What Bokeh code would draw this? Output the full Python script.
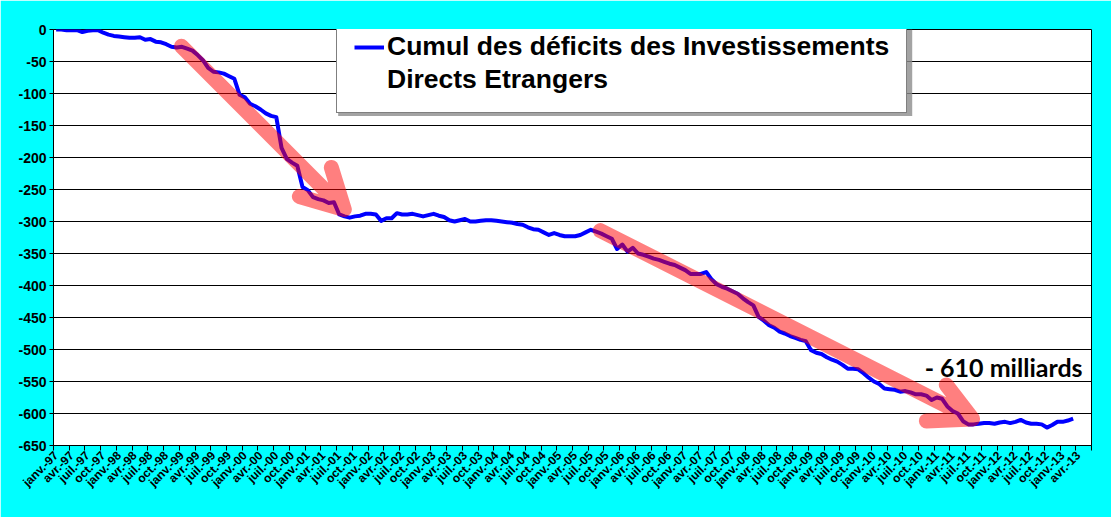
import math
from bokeh.plotting import figure
from bokeh.models import Range1d, FixedTicker, Legend, LegendItem, Label, BoxAnnotation
from bokeh.embed import file_html
from bokeh.resources import INLINE

# ---------------- data ----------------
quarters = ["janv.", "avr.", "juil.", "oct."]
years = list(range(1997, 2014))
n_months = 198  # janv.-97 .. juin-13 (categories on the axis)
tick_labels = [f"{q}-{y % 100:02d}" for y in years for q in quarters][:66]

cumul = [
    0, 0, -1, -1, -1, -4, -2, -1, -1, -5,
    -8, -10, -11, -12, -13, -13, -12, -16, -15, -19,
    -20, -23, -27, -28, -27, -30, -33, -40, -48, -60,
    -66, -67, -69, -73, -77, -102, -106, -116, -120, -125,
    -131, -135, -137, -185, -202, -208, -213, -246, -251, -262,
    -265, -267, -271, -270, -289, -292, -294, -292, -291, -288,
    -288, -289, -299, -295, -295, -287, -289, -289, -288, -290,
    -292, -290, -288, -291, -293, -298, -300, -298, -296, -300,
    -300, -299, -298, -298, -299, -300, -301, -302, -304, -305,
    -309, -312, -313, -317, -321, -318, -321, -323, -323, -323,
    -321, -317, -313, -316, -319, -323, -327, -343, -336, -347,
    -341, -350, -352, -355, -358, -360, -363, -366, -368, -372,
    -376, -382, -382, -382, -379, -390, -398, -402, -405, -409,
    -413, -420, -426, -431, -449, -455, -462, -466, -472, -475,
    -479, -482, -485, -487, -501, -505, -507, -512, -516, -519,
    -524, -530, -530, -531, -537, -544, -550, -554, -561, -562,
    -563, -566, -565, -567, -570, -570, -572, -579, -575, -577,
    -589, -596, -600, -612, -617, -617, -616, -615, -615, -616,
    -614, -613, -615, -613, -610, -614, -616, -616, -617, -622,
    -618, -613, -613, -611, -608,
]
months_idx = list(range(len(cumul)))

y_ticks = list(range(-650, 1, 50))

series_label = ["Cumul des déficits des Investissements", "Directs Etrangers"]
note_text = "- 610 milliards"

# annotation arrows (month index, value): start -> tip -> barb1 -> tip -> barb2
arrow_xs = [[23.9, 54.97, 52.5, 54.97, 46.4],
            [103.8, 174.8, 169.8, 174.8, 166.0]]
arrow_ys = [[-26.1, -281.3, -215.6, -281.3, -260.9],
            [-314.2, -608.5, -555.3, -608.5, -611.6]]

# ---------------- figure ----------------
CYAN = "#00FFFF"
p = figure(width=1111, height=517, output_backend="svg", toolbar_location=None,
           x_range=Range1d(-0.5, n_months - 0.5), y_range=Range1d(-650, 0),
           min_border_left=53, min_border_right=20, min_border_top=29,
           min_border_bottom=72)
p.border_fill_color = CYAN
p.background_fill_color = "white"
p.outline_line_color = "black"
p.outline_line_width = 1

r_line = p.line(months_idx, cumul, line_color="#0000FF", line_width=4,
                line_join="round")
r_dummy = p.line([], [], line_alpha=0)

p.multi_line(arrow_xs, arrow_ys, line_color="#FF0000", line_alpha=0.5,
             line_width=15, line_cap="round", line_join="round")

# axes
p.xgrid.visible = False
p.ygrid.ticker = FixedTicker(ticks=y_ticks)
p.ygrid.grid_line_color = "black"
p.ygrid.grid_line_width = 1

p.yaxis.ticker = FixedTicker(ticks=y_ticks)
p.yaxis.major_label_overrides = {v: str(v) for v in y_ticks}
p.yaxis.major_label_text_font = "Liberation Sans"
p.yaxis.major_label_text_font_style = "bold"
p.yaxis.major_label_text_font_size = "14px"
p.yaxis.major_label_text_color = "black"
p.yaxis.major_tick_out = 4
p.yaxis.major_tick_in = 0
p.yaxis.minor_tick_line_color = None
p.yaxis.major_label_standoff = 3
p.yaxis.axis_line_color = "black"

x_major = list(range(0, 3 * len(tick_labels), 3))
x_minor = [k * 3 - 0.5 for k in range(n_months // 3 + 1)]
p.xaxis.ticker = FixedTicker(ticks=x_major, minor_ticks=x_minor)
p.xaxis.major_label_overrides = {t: lab for t, lab in zip(x_major, tick_labels)}
p.xaxis.major_label_orientation = math.pi / 4
p.xaxis.major_label_text_font = "Liberation Sans"
p.xaxis.major_label_text_font_style = "bold"
p.xaxis.major_label_text_font_size = "12px"
p.xaxis.major_label_text_color = "black"
p.xaxis.major_tick_line_color = None
p.xaxis.minor_tick_line_color = "black"
p.xaxis.minor_tick_out = 5
p.xaxis.minor_tick_in = 0
p.xaxis.major_label_standoff = 2
p.xaxis.axis_line_color = "black"

# legend shadow
p.add_layout(BoxAnnotation(left=53.8, right=163.3, top=0, bottom=-135.0,
                           fill_color="#8C8C8C", fill_alpha=0.8,
                           line_color=None))

# legend
legend = Legend(items=[LegendItem(label=series_label[0], renderers=[r_line]),
                       LegendItem(label=series_label[1], renderers=[r_dummy])],
                location=(283, 332))
legend.label_text_font = "Liberation Sans"
legend.label_text_font_style = "bold"
legend.label_text_font_size = "26.5px"
legend.label_text_color = "black"
legend.label_height = 28
legend.glyph_height = 28
legend.glyph_width = 30
legend.label_standoff = 3
legend.spacing = 2
legend.padding = 17
legend.border_line_color = "black"
legend.border_line_width = 1
legend.background_fill_color = "white"
legend.background_fill_alpha = 1
p.add_layout(legend)

p.add_layout(Label(x=195.8, y=-527.0, text=note_text, text_align="right",
                   text_baseline="alphabetic", text_font="Lato",
                   text_font_style="bold", text_font_size="25px",
                   text_color="black"))

open("out.html", "w").write(file_html(p, INLINE))
